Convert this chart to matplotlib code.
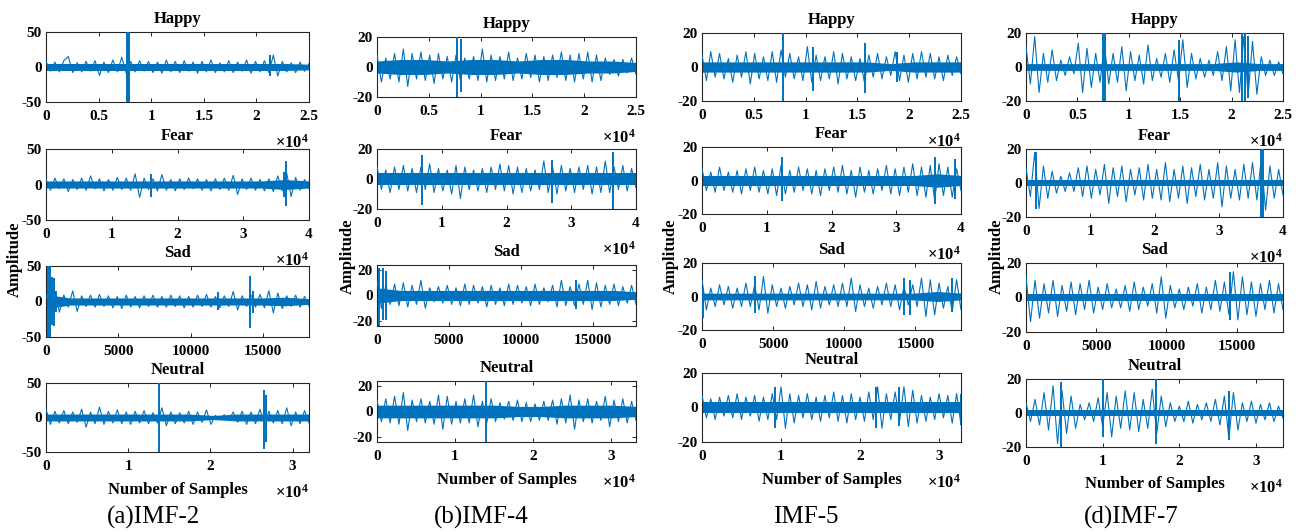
import numpy as np
import matplotlib
matplotlib.use("Agg")
import matplotlib.pyplot as plt
from matplotlib.ticker import FuncFormatter

plt.rcParams['font.family'] = ['Liberation Serif', 'DejaVu Serif']
plt.rcParams['font.weight'] = 'bold'
plt.rcParams['axes.unicode_minus'] = False
plt.rcParams['mathtext.fontset'] = 'custom'
plt.rcParams['mathtext.rm'] = 'Liberation Serif:bold'
plt.rcParams['mathtext.it'] = 'Liberation Serif:bold'

# ---------------- data ----------------
emotions = ["Happy", "Fear", "Sad", "Neutral"]
captions = ["(a)IMF-2", "(b)IMF-4", "IMF-5", "(d)IMF-7"]
n_samples = [[25000, 40000, 18200, 32000],
             [25000, 40000, 18000, 33200],
             [25000, 40000, 18200, 32800],
             [25000, 40000, 18300, 33500]]

# IMF-2
imf2_happy = [8,-6,7,-7,9,15,-8,6,-7,8,-6,9,-12,7,-8,10,-7,14,-9,8,-7,9,-6,8,-8,7,-9,10,-7,8,-8,9,-6,7,-9,8,-7,10,-8,6,-7,9,-8,7,-6,10,-9,8,-7,9,-8,17,-13,8,-7,6,-8,7,-6,5]
imf2_happy_core = [5,5,5,5,5,5,5,5,5,5,5,4]
imf2_happy_spikes = [(7700, 52, -52), (7800, 52, -52), (7900, 52, -52), (21300, 17, -13)]
imf2_fear = [7,-8,9,-6,8,-10,7,-7,9,-8,12,-6,8,-9,7,-8,10,-7,9,-8,15,-18,9,-7,8,-9,14,-8,7,-9,8,-7,9,-6,8,-8,7,-9,8,-7,9,-8,13,-14,8,-7,9,-8,7,-9,8,-10,12,-9,16,-17,10,-8,7,-6]
imf2_fear_core = [5,5,5,5,5,5,5,5,5,5,7,5]
imf2_fear_spikes = [(16000, 15, -18), (36200, 18, -17), (36500, 33, -30)]
imf2_sad = [10,-12,14,-15,9,-8,15,-14,8,-7,9,-8,10,-7,8,-9,7,-10,9,-8,7,-9,8,-7,9,-8,7,-8,9,-7,8,-9,7,-8,9,-7,10,-8,7,-9,8,-7,14,-12,8,-7,9,-8,10,-9,15,-16,12,-10,8,-7,9,-8,7,-6]
imf2_sad_core = [10,5,5,5,5,5,5,5,5,5,6,4]
imf2_sad_spikes = [(150, 52, -52), (250, 52, -52), (400, 35, -33), (550, 33, -35), (700, 15, -15),
                   (11900, 14, -12), (14100, 36, -38), (14300, 15, -16)]
imf2_neutral = [12,-10,9,-8,10,-9,8,-7,12,-14,8,-9,15,-10,9,-8,11,-9,8,-10,9,-8,10,-9,7,-8,14,-12,8,-9,7,-8,9,-10,8,-7,11,-10,3,-3,4,-4,8,-7,9,-10,8,-9,12,-10,9,-8,10,-9,14,-12,8,-9,10,-8]
imf2_neutral_core = [5,5,5,5,5,5,5,3,5,5,5,5]
imf2_neutral_spikes = [(13800, 52, -52), (26500, 40, -45), (26800, 33, -35)]

# IMF-4
imf4_happy = [8,-10,6,-8,9,-10,12,-13,9,-8,10,-9,8,-11,9,-8,7,-10,8,-9,6,-8,7,-9,12,-10,8,-9,7,-8,10,-9,6,-8,9,-7,8,-10,7,-9,8,-7,10,-9,8,-10,9,-8,10,-10,8,-9,6,-5,5,-6,5,-4,6,-5]
imf4_happy_core = [4,5,5,4,5,5,4,5,5,4,4,3]
imf4_happy_spikes = [(7700, 22, -22), (8150, 19, -17)]
imf4_fear = [8,-7,6,-9,8,-7,9,-8,7,-9,8,-7,10,-9,7,-8,6,-10,9,-13,8,-7,6,-8,7,-9,8,-7,10,-8,9,-10,8,-9,7,-8,6,-7,12,-9,8,-10,9,-8,7,-9,8,-7,9,-10,8,-9,12,-9,8,-7,9,-8,7,-6]
imf4_fear_core = [4,4,4,4,4,4,4,4,4,4,4,4]
imf4_fear_spikes = [(7000, 16, -17), (27000, 13, -16), (36500, 18, -22)]
imf4_sad = [12,-10,8,-7,9,-8,10,-9,8,-7,12,-10,6,-5,7,-6,8,-7,6,-8,9,-7,8,-6,7,-9,8,-7,6,-8,9,-7,8,-6,7,-8,9,-7,6,-5,8,-9,12,-8,7,-8,9,-7,12,-11,10,-9,8,-7,9,-8,7,-6,8,-7]
imf4_sad_core = [6,4,4,4,4,4,4,4,4,4,4,3]
imf4_sad_spikes = [(150, 22, -25), (400, 22, -19), (650, 19, -19), (13800, 12, -11)]
imf4_neutral = [9,-8,10,-9,12,-10,15,-15,9,-8,10,-9,8,-10,13,-14,12,-10,8,-9,10,-9,13,-12,8,-9,10,-8,7,-6,8,-7,9,-8,7,-8,6,-7,8,-7,9,-10,10,-9,13,-14,9,-8,10,-9,8,-7,12,-12,9,-8,10,-9,8,-7]
imf4_neutral_core = [5,5,5,5,5,5,4,4,5,5,5,4]
imf4_neutral_spikes = [(14000, 25, -25)]

# IMF-5
imf5_happy = [7,-8,9,-6,8,-7,5,-9,7,-6,9,-10,8,-7,6,-8,9,-9,10,-6,8,-7,6,-8,12,-9,7,-8,6,-7,9,-10,8,-7,6,-8,5,-9,7,-6,8,-7,6,-5,9,-8,7,-9,8,-7,9,-6,8,-7,6,-8,7,-5,6,-4]
imf5_happy_core = [3,3,3,3,3,3,3,3,2,3,3,3]
imf5_happy_spikes = [(7800, 21, -21), (10700, 12, -14), (15700, 14, -15), (18800, 9, -9)]
imf5_fear = [7,-6,5,-7,8,-6,5,-7,6,-8,7,-6,8,-7,6,-8,7,-9,9,-8,6,-7,8,-6,7,-8,6,-9,7,-6,8,-7,9,-8,6,-10,8,-7,6,-8,7,-6,9,-8,7,-9,8,-7,10,-9,8,-10,9,-12,10,-9,8,-10,7,-6]
imf5_fear_core = [3,3,3,3,3,3,3,3,3,3,4,3]
imf5_fear_spikes = [(12300, 14, -12), (36000, 14, -14), (39000, 13, -11)]
imf5_sad = [10,-8,5,-6,7,-5,6,-7,5,-6,8,-6,7,-8,12,-10,7,-6,5,-7,6,-5,8,-6,7,-8,9,-7,6,-5,7,-6,8,-6,11,-9,7,-6,5,-7,6,-5,8,-6,7,-8,6,-5,7,-6,11,-12,10,-11,8,-7,6,-9,10,-8]
imf5_sad_core = [2,2,2,2,2,2,2,2,2,2,3,2]
imf5_sad_spikes = [(50, 5, -13), (3700, 12, -10), (14200, 11, -11), (14600, 10, -11), (17600, 11, -9)]
imf5_neutral = [7,-6,5,-7,6,-5,7,-6,8,-7,6,-5,7,-8,6,-7,8,-7,12,-12,8,-9,7,-6,8,-7,6,-8,7,-6,9,-8,7,-9,8,-7,6,-8,9,-7,12,-12,8,-7,9,-8,12,-11,10,-9,7,-8,6,-7,8,-6,7,-9,8,-10]
imf5_neutral_core = [3,3,3,3,3,3,3,3,3,3,3,3]
imf5_neutral_spikes = [(9200, 12, -12), (22000, 12, -12), (25000, 12, -11), (32800, 8, -10)]

# IMF-7
imf7_happy = [12,-10,18,-15,8,-9,10,-8,4,-5,6,-4,14,-15,11,-12,8,-9,13,-10,8,-9,12,-14,9,-8,7,-10,13,-8,5,-6,8,-9,10,-8,16,-12,8,-7,5,-6,4,-5,9,-8,12,-14,16,-15,18,-17,15,-16,6,-5,4,-5,3,-4]
imf7_happy_core = [2,2,2,2,2,2,2,2,2,3,2,2]
imf7_happy_spikes = [(7500, 21, -21), (7700, 21, -21), (14900, 16, -21), (21000, 21, -21), (21300, 21, -21), (21600, 18, -18)]
imf7_fear = [9,-8,18,-15,10,-9,7,-6,4,-5,6,-5,9,-8,10,-9,8,-7,11,-12,9,-8,10,-11,8,-7,9,-10,11,-9,8,-10,12,-11,8,-9,10,-12,9,-8,11,-10,8,-9,12,-14,10,-9,8,-10,11,-9,12,-10,14,-16,10,-9,8,-7]
imf7_fear_core = [2,2,2,2,2,2,2,2,2,2,2,2]
imf7_fear_spikes = [(1500, 18, -15), (36500, 21, -21), (36900, 21, -21)]
imf7_sad = [12,-14,10,-12,8,-9,10,-11,7,-8,9,-10,8,-7,10,-9,6,-7,8,-6,5,-6,7,-8,9,-7,6,-5,8,-9,12,-12,7,-6,5,-7,6,-5,8,-9,6,-7,10,-8,9,-10,15,-13,12,-10,9,-11,8,-7,10,-9,8,-7]
imf7_sad_core = [2,2,2,2,2,2,2,2,2,2,2,2]
imf7_sad_spikes = [(14500, 15, -13)]
imf7_neutral = [6,-5,8,-7,12,-10,16,-18,13,-12,10,-9,5,-4,6,-5,9,-8,12,-14,10,-9,13,-10,12,-11,8,-9,14,-12,10,-8,6,-5,4,-5,7,-6,5,-4,6,-5,8,-7,10,-15,12,-10,6,-5,7,-6,5,-4,6,-5,4,-3]
imf7_neutral_core = [2,2,2,2,2,2,2,2,2,2,2,2]
imf7_neutral_spikes = [(4500, 18, -21), (10000, 21, -14), (17000, 21, -18), (26500, 13, -16)]

signals = [[imf2_happy, imf2_fear, imf2_sad, imf2_neutral],
           [imf4_happy, imf4_fear, imf4_sad, imf4_neutral],
           [imf5_happy, imf5_fear, imf5_sad, imf5_neutral],
           [imf7_happy, imf7_fear, imf7_sad, imf7_neutral]]
cores = [[imf2_happy_core, imf2_fear_core, imf2_sad_core, imf2_neutral_core],
         [imf4_happy_core, imf4_fear_core, imf4_sad_core, imf4_neutral_core],
         [imf5_happy_core, imf5_fear_core, imf5_sad_core, imf5_neutral_core],
         [imf7_happy_core, imf7_fear_core, imf7_sad_core, imf7_neutral_core]]
spikes = [[imf2_happy_spikes, imf2_fear_spikes, imf2_sad_spikes, imf2_neutral_spikes],
          [imf4_happy_spikes, imf4_fear_spikes, imf4_sad_spikes, imf4_neutral_spikes],
          [imf5_happy_spikes, imf5_fear_spikes, imf5_sad_spikes, imf5_neutral_spikes],
          [imf7_happy_spikes, imf7_fear_spikes, imf7_sad_spikes, imf7_neutral_spikes]]

ylims = [[50, 50, 50, 50], [20, 20, 24, 24], [20, 20, 20, 20], [20, 20, 20, 20]]
yticks = [[-50, 0, 50], [-20, 0, 20], [-20, 0, 20], [-20, 0, 20]]
xticks = [np.arange(0, 25001, 5000), np.arange(0, 40001, 10000),
          np.arange(0, 15001, 5000), np.arange(0, 30001, 10000)]

# ---------------- layout (pixels) ----------------
W, H = 1303, 531
col_x = [(46, 309), (377, 636), (702, 961), (1026, 1283)]
row_y = [[(32, 102), (149, 220), (266, 337), (383, 452)],
         [(37, 97), (149, 209), (265, 326), (381, 442)],
         [(33, 101), (147, 214), (263, 330), (373, 442)],
         [(33, 101), (149, 217), (263, 332), (379, 447)]]
amp_pos = [(15, 259), (348, 256), (671, 256), (997, 256)]
cap_x = [154, 481, 806, 1131]
color = '#0072BD'
edge = '#262626'

fig = plt.figure(figsize=(13.03, 5.31), dpi=100)

def sci_fmt(v, pos):
    return '%g' % (v / 1e4)

for c in range(4):
    l, r = col_x[c]
    for k in range(4):
        t, b = row_y[c][k]
        ax = fig.add_axes([l / W, 1 - b / H, (r - l) / W, (b - t) / H])
        xmax = n_samples[c][k]
        sig = np.array(signals[c][k], dtype=float)
        core = np.array(cores[c][k], dtype=float)
        xs = np.linspace(0, xmax, len(sig))
        xc = np.linspace(0, xmax, len(core))
        # dense part of the trace as a band, the waveform on top
        ax.fill_between(xc, -core, core, color=color, lw=0, zorder=2)
        ax.plot(xs, sig, color=color, lw=0.8, zorder=3)
        sp = spikes[c][k]
        ax.vlines([s[0] for s in sp], [s[2] for s in sp], [s[1] for s in sp],
                  color=color, lw=1.4, zorder=3)
        ax.set_xlim(0, xmax)
        ax.set_ylim(-ylims[c][k], ylims[c][k])
        ax.set_yticks(yticks[c])
        ax.set_xticks(xticks[k])
        if k != 2:
            ax.xaxis.set_major_formatter(FuncFormatter(sci_fmt))
            ax.annotate(r'$\times10^{4}$', xy=(1, 0), xycoords='axes fraction',
                        xytext=(0, -29), textcoords='offset points',
                        ha='right', va='center', fontsize=12)
        ax.tick_params(direction='in', length=3, width=0.6, labelsize=11,
                       top=True, right=True, colors='black')
        ax.tick_params(axis='x', pad=6)
        ax.tick_params(axis='y', pad=3)
        for lab in ax.get_xticklabels() + ax.get_yticklabels():
            lab.set_fontweight('bold')
        for s in ax.spines.values():
            s.set_color(edge)
            s.set_linewidth(0.8)
        ax.annotate(emotions[k], xy=(0.5, 1), xycoords='axes fraction',
                    xytext=(0, 9.5), textcoords='offset points',
                    ha='center', va='center', fontsize=12, fontweight='bold')
        if k == 3:
            ax.annotate('Number of Samples', xy=(0.5, 0), xycoords='axes fraction',
                        xytext=(0, -27), textcoords='offset points',
                        ha='center', va='center', fontsize=12, fontweight='bold')
    fig.text(amp_pos[c][0] / W, 1 - amp_pos[c][1] / H, 'Amplitude', rotation=90,
             ha='center', va='center', fontsize=12, fontweight='bold')
    fig.text(cap_x[c] / W, 1 - 517 / H, captions[c], ha='center', va='center',
             fontsize=18, fontweight='normal')

fig.savefig('out.png', dpi=100)
